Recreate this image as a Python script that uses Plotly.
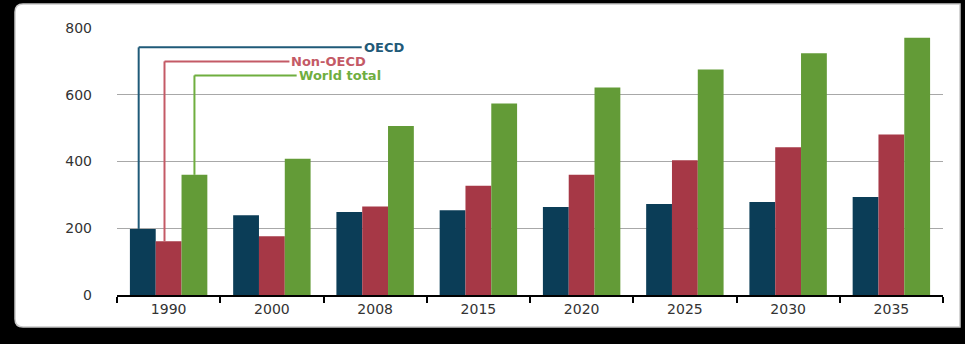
import plotly.graph_objects as go

# World energy consumption by region (quadrillion Btu)
years = ["1990", "2000", "2008", "2015", "2020", "2025", "2030", "2035"]
oecd = [198, 239, 249, 254, 264, 273, 279, 294]
non_oecd = [161, 176, 265, 327, 360, 404, 443, 481]
world = [360, 408, 506, 574, 622, 676, 724, 771]

series_names = ["OECD", "Non-OECD", "World total"]
bar_colors = ["#0b3d57", "#a63846", "#639b37"]
label_colors = ["#1f5a78", "#c45a66", "#6fae3f"]
y_ticks = [0, 200, 400, 600, 800]

# label levels for the callout lines and where each line meets its label
label_levels = [742, 700, 658]
label_starts = [1.87, 1.17, 1.24]

W, H = 965, 344
M_L, M_R, M_T, M_B = 117, 22, 28, 49
PW, PH = W - M_L - M_R, H - M_T - M_B


def px_x(px):
    return (px - M_L) / PW


def px_y(py):
    return (H - M_B - py) / PH


fig = go.Figure()
for name, vals, col in zip(series_names, [oecd, non_oecd, world], bar_colors):
    fig.add_trace(go.Bar(x=years, y=vals, name=name, marker_color=col,
                         marker_line_width=0))

bargap = 0.25
bar_w = (1 - bargap) / 3
offsets = [-bar_w - 0.04, -0.04, bar_w]

shapes = []
# white panel with rounded corners on the black page
x0, x1 = px_x(15), px_x(960)
y0, y1 = px_y(327), px_y(4)
rx, ry = 8 / PW, 8 / PH
panel = (f"M {x0+rx},{y1} L {x1},{y1} L {x1},{y0} L {x0+rx},{y0} "
         f"Q {x0},{y0} {x0},{y0+ry} L {x0},{y1-ry} Q {x0},{y1} {x0+rx},{y1} Z")
shapes.append(dict(type="path", xref="paper", yref="paper", path=panel,
                   fillcolor="white", line=dict(color="#c8c8c8", width=1.5),
                   layer="below"))

annotations = []
first_vals = [oecd[0], non_oecd[0], world[0]]
for name, v, off, lvl, xs, col in zip(series_names, first_vals, offsets,
                                      label_levels, label_starts, label_colors):
    xc = 0 + off
    shapes.append(dict(type="line", xref="x", yref="y", x0=xc, x1=xc, y0=v, y1=lvl,
                       line=dict(color=col, width=2), layer="above"))
    shapes.append(dict(type="line", xref="x", yref="y", x0=xc, x1=xs, y0=lvl, y1=lvl,
                       line=dict(color=col, width=2), layer="above"))
    annotations.append(dict(x=xs, y=lvl, xref="x", yref="y", text=name,
                            showarrow=False, xanchor="left", yanchor="middle",
                            xshift=1, borderpad=0,
                            font=dict(family="DejaVu Sans", size=13, color=col,
                                      weight="bold")))

fig.update_layout(
    width=W, height=H,
    margin=dict(l=M_L, r=M_R, t=M_T, b=M_B),
    paper_bgcolor="black",
    plot_bgcolor="rgba(0,0,0,0)",
    barmode="group", bargap=bargap, bargroupgap=0,
    showlegend=False,
    shapes=shapes,
    annotations=annotations,
    font=dict(family="DejaVu Sans", color="#222222"),
)
fig.update_xaxes(
    type="category", range=[-0.5, 7.5],
    showline=True, linecolor="black", linewidth=2,
    ticks="outside", tickson="boundaries", ticklen=6, tickwidth=2,
    tickcolor="black", showgrid=False,
    tickfont=dict(size=14, color="#333333"),
)
fig.update_yaxes(
    range=[0, 800], tickvals=y_ticks,
    showgrid=True, gridcolor="#a8a8a8", gridwidth=1,
    zeroline=False, showline=False, ticks="",
    ticklabelstandoff=24,
    tickfont=dict(size=14, color="#333333"),
)

fig.write_html("out.html")
